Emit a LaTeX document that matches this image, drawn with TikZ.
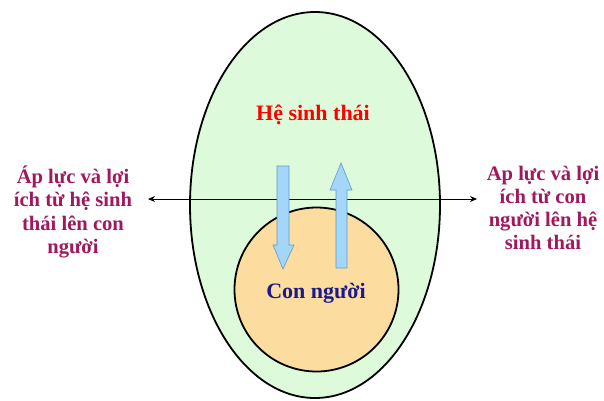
\documentclass[tikz,border=0pt]{standalone}
\usepackage{fontspec}
\setmainfont{Liberation Serif}
\usetikzlibrary{arrows.meta,shapes.geometric}
\definecolor{ecogreen}{HTML}{DDFADB}
\definecolor{humanorange}{HTML}{FDDC9F}
\definecolor{flowblue}{HTML}{A3D6F8}
\definecolor{flowedge}{HTML}{5E9CC8}
\definecolor{sidetext}{HTML}{A0185E}
\definecolor{navytext}{HTML}{1A1A8C}
\tikzset{
  region/.style={draw=black, line width=1.8pt},
  sidelabel/.style={text=sidetext, font=\bfseries\fontsize{20.6}{23.2}\selectfont, align=center, inner sep=0pt},
  flowarrow/.style={fill=flowblue, draw=flowedge, line width=0.6pt},
  linkline/.style={draw=black, line width=0.8pt, {Stealth[length=7pt,width=6pt]}-{Stealth[length=7pt,width=6pt]}}
}
\begin{document}
\begin{tikzpicture}[x=1pt,y=-1pt]
\useasboundingbox (0,0) rectangle (604,400);
\fill[white] (0,0) rectangle (604,400);
% outer ecosystem ellipse
\node[region, fill=ecogreen, ellipse, minimum width=250pt, minimum height=386pt, inner sep=0pt] (eco) at (315,205) {};
% inner human circle
\node[region, fill=humanorange, circle, minimum size=164pt, inner sep=0pt] (human) at (316.5,289.5) {};
% labels
\node[text=red, font=\bfseries\fontsize{22}{26}\selectfont, inner sep=0pt] (ecolabel) at (313,115) {Hệ sinh thái};
\node[text=navytext, font=\bfseries\fontsize{22}{26}\selectfont, inner sep=0pt] (humanlabel) at (316,293) {Con người};
\node[sidelabel] (left) at (73,212) {Áp lực và lợi\\ích từ hệ sinh\\thái lên con\\người};
\node[sidelabel] (right) at (543,208) {Ap lực và lợi\\ích từ con\\người lên hệ\\sinh thái};
% double-headed connector
\coordinate (ltip) at (148,199);
\coordinate (rtip) at (477,199);
\draw[linkline] (ltip) -- (rtip);
% block arrows
\draw[flowarrow] (277,166) -- (289,166) -- (289,245) -- (294,245) -- (283,269) -- (273,245) -- (277,245) -- cycle;
\draw[flowarrow] (336,268) -- (347,268) -- (347,190) -- (352,190) -- (341,163) -- (330,190) -- (336,190) -- cycle;
\end{tikzpicture}
\end{document}
